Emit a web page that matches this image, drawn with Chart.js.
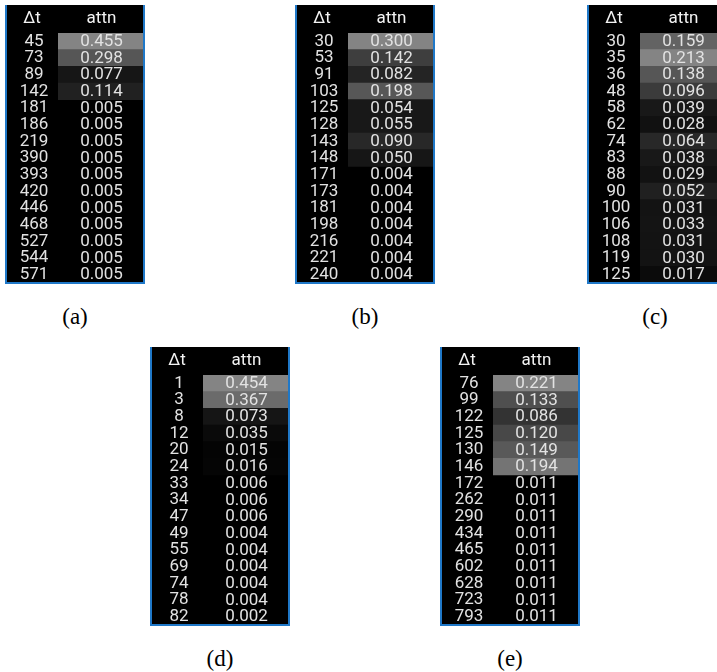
<!DOCTYPE html>
<html>
<head>
<meta charset="utf-8">
<script src="https://cdn.jsdelivr.net/npm/chart.js@4/dist/chart.umd.min.js"></script>
<style>
  html, body { margin: 0; padding: 0; background: #fff; }
  body { width: 717px; height: 672px; position: relative; overflow: hidden; }
  .panel { position: absolute; width: 140px; height: 279px; }
  .panel canvas { display: block; }
  .cap { position: absolute; width: 80px; text-align: center; font-family: "Liberation Serif", "DejaVu Serif", serif; font-size: 23px; line-height: 26px; color: #000; }
</style>
</head>
<body>
<div class="panel" style="left:5px;top:5px"><canvas id="ca" width="140" height="279"></canvas></div>
<div class="panel" style="left:295px;top:5px"><canvas id="cb" width="140" height="279"></canvas></div>
<div class="panel" style="left:587px;top:5px"><canvas id="cc" width="140" height="279"></canvas></div>
<div class="panel" style="left:150px;top:347px"><canvas id="cd" width="140" height="279"></canvas></div>
<div class="panel" style="left:440px;top:347px"><canvas id="ce" width="140" height="279"></canvas></div>
<div class="cap" style="left:35px;top:304px">(a)</div>
<div class="cap" style="left:325px;top:304px">(b)</div>
<div class="cap" style="left:615px;top:304px">(c)</div>
<div class="cap" style="left:180px;top:646px">(d)</div>
<div class="cap" style="left:470px;top:646px">(e)</div>
<script>
// ---- data ----
const headers = ["\u0394t", "attn"];

const dtA   = [45, 73, 89, 142, 181, 186, 219, 390, 393, 420, 446, 468, 527, 544, 571];
const attnA = [0.455, 0.298, 0.077, 0.114, 0.005, 0.005, 0.005, 0.005, 0.005, 0.005, 0.005, 0.005, 0.005, 0.005, 0.005];

const dtB   = [30, 53, 91, 103, 125, 128, 143, 148, 171, 173, 181, 198, 216, 221, 240];
const attnB = [0.300, 0.142, 0.082, 0.198, 0.054, 0.055, 0.090, 0.050, 0.004, 0.004, 0.004, 0.004, 0.004, 0.004, 0.004];

const dtC   = [30, 35, 36, 48, 58, 62, 74, 83, 88, 90, 100, 106, 108, 119, 125];
const attnC = [0.159, 0.213, 0.138, 0.096, 0.039, 0.028, 0.064, 0.038, 0.029, 0.052, 0.031, 0.033, 0.031, 0.030, 0.017];

const dtD   = [1, 3, 8, 12, 20, 24, 33, 34, 47, 49, 55, 69, 74, 78, 82];
const attnD = [0.454, 0.367, 0.073, 0.035, 0.015, 0.016, 0.006, 0.006, 0.006, 0.004, 0.004, 0.004, 0.004, 0.004, 0.002];

const dtE   = [76, 99, 122, 125, 130, 146, 172, 262, 290, 434, 465, 602, 628, 723, 793];
const attnE = [0.221, 0.133, 0.086, 0.120, 0.149, 0.194, 0.011, 0.011, 0.011, 0.011, 0.011, 0.011, 0.011, 0.011, 0.011];

// number of highlighted (shaded) rows in each panel
const shadedA = 4, shadedB = 8, shadedC = 15, shadedD = 6, shadedE = 6;

// ---- drawing ----
const FONT = 'Roboto';
const FSIZE = 17;
const AXIS_W = 53;
const LABEL_CX = 29;

const measure = document.createElement('canvas').getContext('2d');
measure.font = FSIZE + 'px ' + FONT;

const bgPlugin = {
  id: 'bg',
  beforeDraw(chart) {
    const c = chart.ctx;
    c.save();
    c.fillStyle = '#000';
    c.fillRect(0, 0, chart.width, chart.height);
    c.restore();
  }
};

const textPlugin = {
  id: 'texts',
  afterDraw(chart, args, opts) {
    const c = chart.ctx;
    const x = chart.scales.x, y = chart.scales.y;
    const vals = opts.values;
    c.save();
    c.font = FSIZE + 'px ' + FONT;
    c.textAlign = 'center';
    c.textBaseline = 'middle';
    c.fillStyle = '#f2f2f2';
    c.fillText(headers[0], LABEL_CX - 2, 14);
    c.fillText(headers[1], x.getPixelForValue(0.5), 14);
    c.fillStyle = '#e2e2e2';
    vals.forEach((v, i) => {
      c.fillText(v.toFixed(3), x.getPixelForValue(0.5), y.getPixelForValue(i) + 0.5);
    });
    // frame
    c.strokeStyle = '#1f78c8';
    c.lineWidth = 2;
    c.beginPath();
    c.moveTo(1, 0);
    c.lineTo(1, chart.height - 1);
    c.lineTo(chart.width - 1, chart.height - 1);
    c.lineTo(chart.width - 1, 0);
    c.stroke();
    c.restore();
  }
};

function makePanel(id, dt, attn, shaded) {
  const maxV = Math.max(...attn);
  const colors = attn.map(v => {
    const g = Math.round(132 * v / maxV);
    return 'rgb(' + g + ',' + g + ',' + g + ')';
  });
  const labels = dt.map(String);
  const widest = Math.max(...labels.map(l => measure.measureText(l).width));
  new Chart(document.getElementById(id), {
    type: 'bar',
    data: {
      labels: labels,
      datasets: [{
        data: attn.map((v, i) => i < shaded ? [0, 1] : null),
        backgroundColor: colors,
        borderWidth: 0,
        barPercentage: 1,
        categoryPercentage: 1
      }]
    },
    options: {
      indexAxis: 'y',
      responsive: false,
      animation: false,
      events: [],
      layout: { padding: { top: 28, right: 0, bottom: 1, left: 0 } },
      plugins: {
        legend: { display: false },
        tooltip: { enabled: false },
        texts: { values: attn }
      },
      scales: {
        x: { min: 0, max: 1, display: false },
        y: {
          grid: { display: false, drawTicks: false },
          border: { display: false },
          ticks: {
            color: '#e2e2e2',
            font: { family: FONT, size: FSIZE },
            crossAlign: 'center',
            padding: AXIS_W - LABEL_CX - widest / 2,
            autoSkip: false
          },
          afterFit(s) { s.width = AXIS_W; s.paddingTop = 0; s.paddingBottom = 0; }
        }
      }
    },
    plugins: [bgPlugin, textPlugin]
  });
}

makePanel('ca', dtA, attnA, shadedA);
makePanel('cb', dtB, attnB, shadedB);
makePanel('cc', dtC, attnC, shadedC);
makePanel('cd', dtD, attnD, shadedD);
makePanel('ce', dtE, attnE, shadedE);
</script>
</body>
</html>
